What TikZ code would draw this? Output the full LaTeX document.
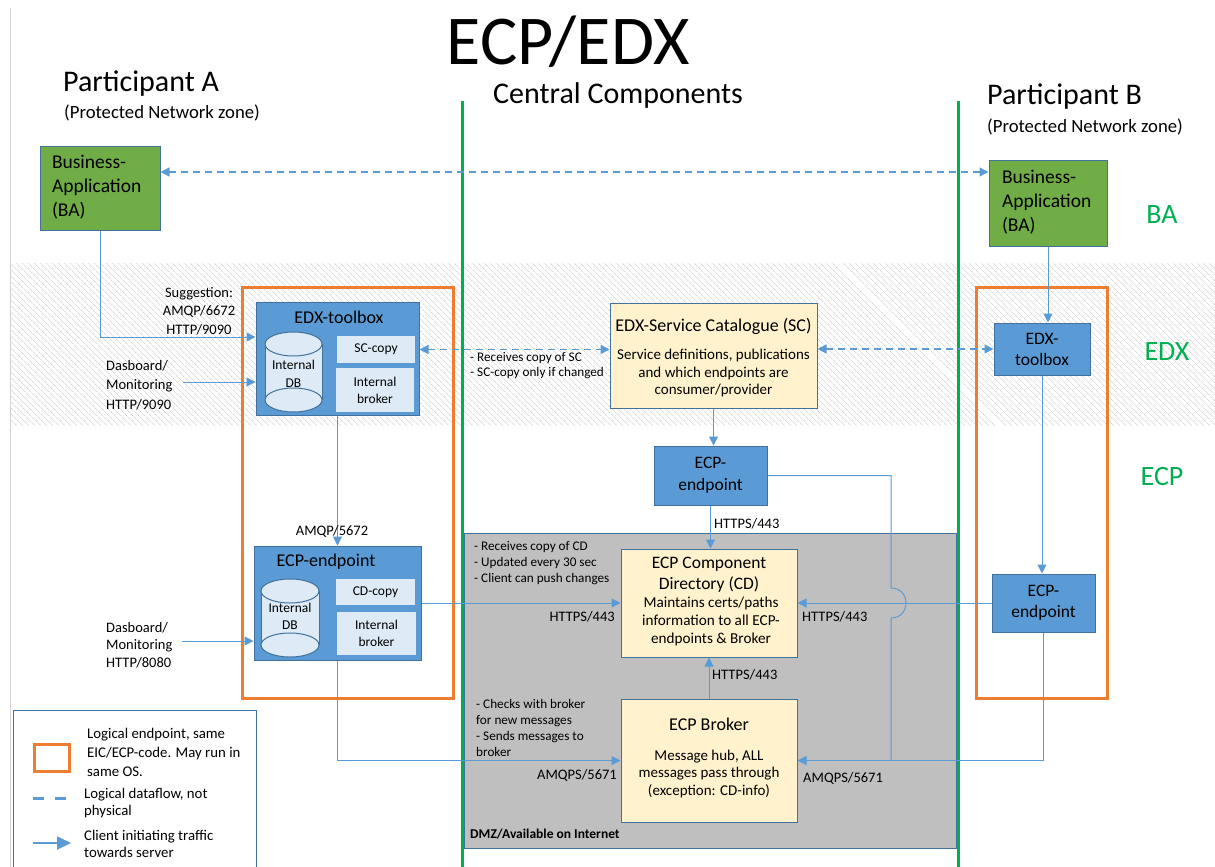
\documentclass[tikz,border=0pt]{standalone}
\usepackage{fontspec}
\setmainfont{Carlito}
\usetikzlibrary{arrows.meta,patterns.meta}
\definecolor{lnblue}{HTML}{5B9BD5}
\definecolor{boxblue}{HTML}{5B9BD5}
\definecolor{bordblue}{HTML}{41719C}
\definecolor{cylfill}{HTML}{DEEBF7}
\definecolor{cream}{HTML}{FFF2CC}
\definecolor{bagreen}{HTML}{70AD47}
\definecolor{orng}{HTML}{ED7D31}
\definecolor{zonegreen}{HTML}{00B050}
\definecolor{dmzgrey}{HTML}{BFBFBF}
\newcommand\myfs[2]{\fontsize{#1pt}{#2pt}\selectfont}
\begin{document}
\begin{tikzpicture}[x=1pt,y=-1pt,
  box/.style={draw=bordblue, line width=1pt, inner sep=0pt, anchor=center},
  bluebox/.style={box, fill=boxblue},
  creambox/.style={box, fill=cream},
  subbox/.style={box, draw=none, fill=cylfill},
  babox/.style={box, fill=bagreen},
  txt/.style={inner sep=0pt, text=black},
  conn/.style={draw=lnblue, line width=1pt},
  arr/.style={conn, -{Triangle[length=9pt,width=9pt]}},
  darr/.style={draw=lnblue, line width=1.4pt, dash pattern=on 7pt off 5pt, {Triangle[length=9pt,width=9pt]}-{Triangle[length=9pt,width=9pt]}},
  endpt/.style={draw=orng, line width=3pt},
  zonelbl/.style={txt, text=zonegreen, font=\myfs{28}{32}},
]
\useasboundingbox (0,0) rectangle (1215,867);

% page edge and hatched EDX band
\draw[gray!35, line width=0.8pt] (10,8) -- (10,867);
\fill[pattern={Lines[angle=-45,distance=4pt,line width=0.7pt]}, pattern color=gray!30] (10,263) rectangle (1215,425);

% zone separators
\draw[zonegreen, line width=3pt] (462,101) -- (462,867);
\draw[zonegreen, line width=3pt] (958,101) -- (958,867);

% DMZ
\node[box, fill=dmzgrey, minimum width=492pt, minimum height=315pt] (dmz) at (710,690.5) {};
\node[txt, anchor=west, font=\myfs{13.5}{16}\bfseries] (dmzlbl) at (470,834) {DMZ/Available on Internet};

% headings
\node[txt, font=\myfs{70}{80}] (title) at (568,42) {ECP/EDX};
\node[txt, anchor=west, font=\myfs{30}{34}] (partA) at (63,84) {Participant A};
\node[txt, anchor=west, font=\myfs{18.7}{22}] (pnzA) at (64,113) {(Protected Network zone)};
\node[txt, anchor=west, font=\myfs{30}{34}] (central) at (493,96) {Central Components};
\node[txt, anchor=west, font=\myfs{30}{34}] (partB) at (987,97) {Participant B};
\node[txt, anchor=west, font=\myfs{18.7}{22}] (pnzB) at (987,127) {(Protected Network zone)};
\node[zonelbl] (zBA) at (1162,215) {BA};
\node[zonelbl] (zEDX) at (1167,352) {EDX};
\node[zonelbl] (zECP) at (1162,477) {ECP};

% logical endpoints
\draw[endpt] (242,287) rectangle (453,698);
\draw[endpt] (976,287) rectangle (1107,698);

% Business applications
\node[babox, minimum width=120pt, minimum height=84pt] (baA) at (100,188) {};
\node[txt, font=\myfs{19.5}{24}, align=left, text width=96pt] (baAt) at (100,187) {Business-\\Application\\(BA)};
\node[babox, minimum width=118pt, minimum height=86pt] (baB) at (1048,203) {};
\node[txt, font=\myfs{19.5}{24}, align=left, text width=94pt] (baBt) at (1049,202) {Business-\\Application\\(BA)};

% EDX toolbox A
\node[bluebox, minimum width=163pt, minimum height=113pt] (edxA) at (337.5,358.5) {};
\node[txt, font=\myfs{18}{22}] (edxAt) at (339,317) {EDX-toolbox};
\fill[cylfill] (265,344) rectangle (322,400);
\draw[bordblue, line width=1pt] (265,344) -- (265,400) (322,344) -- (322,400);
\draw[bordblue, line width=1pt, fill=cylfill] (293.5,400) ellipse [x radius=28.5, y radius=12];
\draw[bordblue, line width=1pt, fill=cylfill] (293.5,344) ellipse [x radius=28.5, y radius=12];
\node[txt, font=\myfs{13.5}{18}, align=center] (dbA) at (293.5,374) {Internal\\DB};
\node[subbox, minimum width=78pt, minimum height=27pt, font=\myfs{13.5}{18}] (sccA) at (376,349.5) {SC-copy};
\node[subbox, minimum width=78pt, minimum height=44pt, font=\myfs{13.5}{17}, align=center] (ibA) at (375,390) {Internal\\broker};

% ECP endpoint A
\node[bluebox, minimum width=167pt, minimum height=114pt] (ecpA) at (337.5,603) {};
\node[txt, font=\myfs{18}{22}] (ecpAt) at (326,562) {ECP-endpoint};
\fill[cylfill] (261,591) rectangle (319,645);
\draw[bordblue, line width=1pt] (261,591) -- (261,645) (319,591) -- (319,645);
\draw[bordblue, line width=1pt, fill=cylfill] (290,645) ellipse [x radius=29, y radius=12];
\draw[bordblue, line width=1pt, fill=cylfill] (290,591) ellipse [x radius=29, y radius=12];
\node[txt, font=\myfs{13.5}{17}, align=center] (dbB) at (290,616) {Internal\\DB};
\node[subbox, minimum width=79pt, minimum height=26pt, font=\myfs{13.5}{18}] (cdcA) at (375.5,592) {CD-copy};
\node[subbox, minimum width=79pt, minimum height=43pt, font=\myfs{13.5}{17}, align=center] (ibB) at (376.5,633.5) {Internal\\broker};

% Service catalogue
\node[creambox, minimum width=207pt, minimum height=105pt] (sc) at (713.5,355.5) {};
\node[txt, font=\myfs{18}{21}] (sct) at (713.5,326) {EDX-Service Catalogue (SC)};
\node[txt, font=\myfs{15}{17.5}, align=center] (scb) at (713.5,373) {Service definitions, publications\\and which endpoints are\\consumer/provider};

% central ECP endpoint
\node[bluebox, minimum width=113pt, minimum height=59pt, font=\myfs{17.5}{22}, align=center] (cep) at (710.5,475.5) {ECP-\\endpoint};

% Component directory
\node[creambox, minimum width=176pt, minimum height=108pt] (cd) at (709,603) {};
\node[txt, font=\myfs{17.5}{21}, align=center] (cdt) at (709,574.5) {ECP Component\\Directory (CD)};
\node[txt, font=\myfs{15.2}{18}, align=center] (cdb) at (711,621) {Maintains certs/paths\\information to all ECP-\\endpoints \& Broker};

% Broker
\node[creambox, minimum width=176pt, minimum height=123pt] (broker) at (709,760.5) {};
\node[txt, font=\myfs{18}{21}] (brt) at (709,724) {ECP Broker};
\node[txt, font=\myfs{15}{17.5}, align=center] (brb) at (709,773.5) {Message hub, ALL\\messages pass through\\(exception: CD-info)};

% Participant B boxes
\node[bluebox, minimum width=96pt, minimum height=52pt, font=\myfs{17.5}{21}, align=center] (edxB) at (1042,349) {EDX-\\toolbox};
\node[bluebox, minimum width=103pt, minimum height=58pt, font=\myfs{17.5}{21}, align=center] (ecpB) at (1043.5,603) {ECP-\\endpoint};

% connectors
\draw[darr] (baA.east |- 0,172) -- (baB.west |- 0,172);
\draw[arr] (baA.south) |- (edxA.west |- 0,337);
\coordinate (dbAs) at (183,382);
\draw[arr] (dbAs) -- (edxA.west |- dbAs);
\coordinate (dbBs) at (182,641);
\draw[arr] (dbBs) -- (ecpA.west |- dbBs);
\draw[arr] (edxA.south) -- (ecpA.north);
\draw[darr] (edxA.east |- sccA) -- (sc.west |- sccA);
\draw[darr] (sc.east |- edxB) -- (edxB.west);
\draw[arr] (baB.south) -- (baB.south |- edxB.north);
\draw[arr] (edxB.south) -- (edxB.south |- ecpB.north);
\draw[arr] (sc.south) -- (sc.south |- cep.north);
\draw[arr] (cep.south) -- (cep.south |- cd.north);
\draw[arr] (ecpA.east) -- (cd.west);
\draw[arr] (ecpB.west) -- (cd.east |- ecpB.west);
\draw[arr] (ecpA.south) |- (broker.west);
\draw[arr] (ecpB.south) |- (broker.east);
\draw[arr] (broker.north) -- (cd.south);
\coordinate (hopT) at (891,588);
\coordinate (hopB) at (891,618);
\coordinate (joinB) at (891,760.5);
\draw[conn] (cep.east) -- (cep.east -| hopT) -- (hopT) .. controls (911,588) and (911,618) .. (hopB) -- (joinB);

% connector labels
\node[txt, font=\myfs{14.5}{18.5}, align=center] (sugg) at (199,311) {Suggestion:\\AMQP/6672\\HTTP/9090};
\node[txt, anchor=west, font=\myfs{14.5}{19.5}, align=left] (dashA) at (106,385) {Dasboard/\\Monitoring\\HTTP/9090};
\node[txt, anchor=west, font=\myfs{14.5}{17.5}, align=left] (dashB) at (106,645) {Dasboard/\\Monitoring\\HTTP/8080};
\node[txt, font=\myfs{14.5}{18}] (amqp) at (332,531) {AMQP/5672};
\node[txt, anchor=west, font=\myfs{13.2}{15}, align=left] (recsc) at (470,366) {- Receives copy of SC\\- SC-copy only if changed};
\node[txt, anchor=west, font=\myfs{14.5}{18}] (h1) at (714,524) {HTTPS/443};
\node[txt, anchor=west, font=\myfs{13.2}{16}, align=left] (reccd) at (474,563) {- Receives copy of CD\\- Updated every 30 sec\\- Client can push changes};
\node[txt, anchor=east, font=\myfs{14.5}{18}] (h2) at (615,617) {HTTPS/443};
\node[txt, anchor=west, font=\myfs{14.5}{18}] (h3) at (802,617) {HTTPS/443};
\node[txt, anchor=west, font=\myfs{14.5}{18}] (h4) at (712,675) {HTTPS/443};
\node[txt, anchor=west, font=\myfs{13.2}{16}, align=left] (chk) at (476,728) {- Checks with broker\\for new messages\\- Sends messages to\\broker};
\node[txt, anchor=east, font=\myfs{14.5}{18}] (a1) at (617,775) {AMQPS/5671};
\node[txt, anchor=west, font=\myfs{14.5}{18}] (a2) at (803,778) {AMQPS/5671};

% legend
\node[box, fill=white, anchor=north west, minimum width=243pt, minimum height=162pt] (legend) at (13,710) {};
\node[draw=orng, line width=3pt, minimum width=35pt, minimum height=27pt, inner sep=0pt] (legO) at (51.5,757.5) {};
\node[txt, anchor=west, font=\myfs{14.8}{19}, align=left] (legOt) at (87,752) {Logical endpoint, same\\EIC/ECP-code. May run in\\same OS.};
\coordinate (legDa) at (33,798);
\coordinate (legDb) at (66,798);
\draw[lnblue, line width=3pt, dash pattern=on 11pt off 11pt] (legDa) -- (legDb);
\node[txt, anchor=west, font=\myfs{14.8}{17}, align=left] (legDt) at (84,803.5) {Logical dataflow, not\\physical};
\coordinate (legAa) at (33,843);
\coordinate (legAb) at (71,843);
\draw[lnblue, line width=2pt, -{Triangle[length=14pt,width=13pt]}] (legAa) -- (legAb);
\node[txt, anchor=west, font=\myfs{14.8}{17}, align=left] (legAt) at (84,843.5) {Client initiating traffic\\towards server};
\end{tikzpicture}
\end{document}
